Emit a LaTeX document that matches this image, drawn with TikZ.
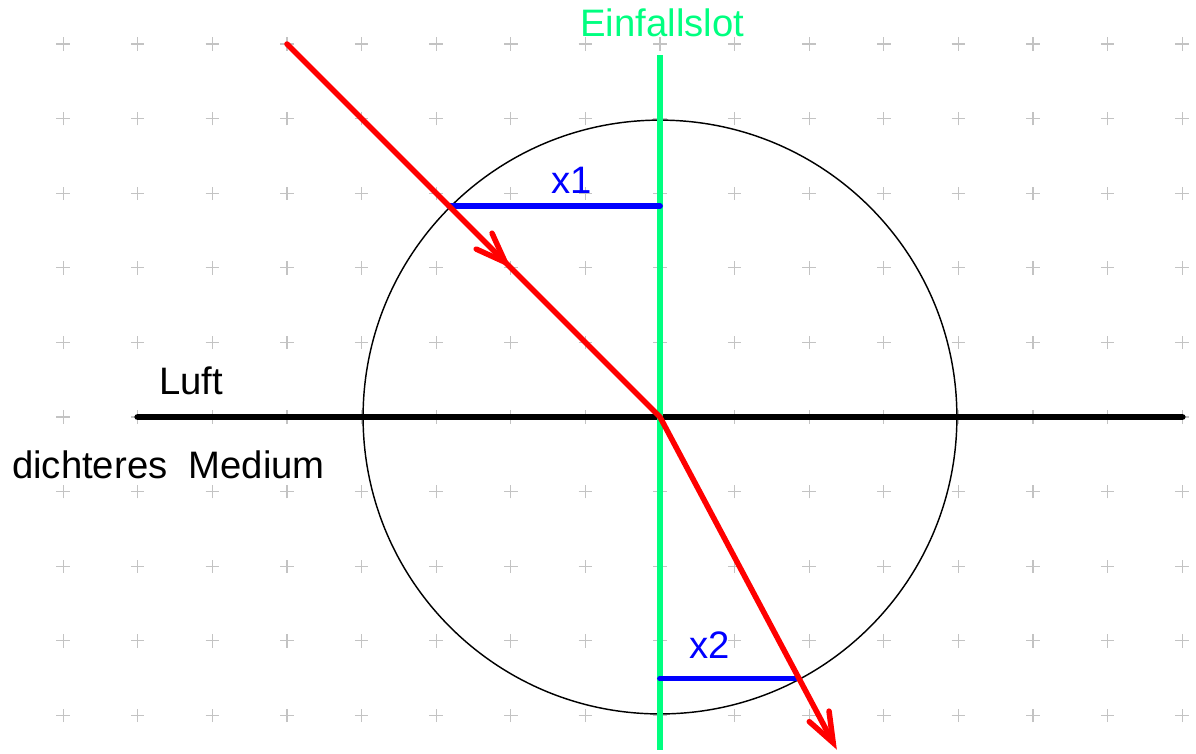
\documentclass[tikz,border=0pt]{standalone}
\usepackage{fontspec}
\setmainfont{Liberation Sans}
\usepackage{tikz}
\usetikzlibrary{arrows.meta}
\usetikzlibrary{calc}
\usetikzlibrary{decorations.markings}
\definecolor{lotgreen}{RGB}{0,255,128}
\definecolor{gridgray}{RGB}{195,195,195}
\tikzset{
    ray/.style={color=red, line width=2.1pt, line cap=round},
    barb/.style={-{Straight Barb[length=4mm, width=3mm, line cap=round]}},
    midbarb/.style={decoration={
      markings,
      mark=at position #1 with {\arrow{Straight Barb[length=4mm, width=3mm, line cap=round]}}},postaction={decorate}},
    strecke/.style={color=blue, line width=2.2pt, line cap=round},
    beschr/.style={font=\fontsize{14.6}{17}\selectfont, inner sep=0pt, anchor=base}
}
\begin{document}
\begin{tikzpicture}
    \useasboundingbox (-8.847,-4.517) rectangle (7.185,5.59);
    % Raster
    \foreach \x in {-8,...,7}
      \foreach \y in {-4,...,5}
        \draw[color=gridgray, line width=0.5pt] (\x-0.09,\y) -- (\x+0.09,\y) (\x,\y-0.09) -- (\x,\y+0.09);
    \coordinate (M) at (0, 0);
    \coordinate (S) at (-5, 5);
    \coordinate (E) at ($(M) + (-62:5.05)$);
    \coordinate (P1) at ($(M) + (135:4)$);
    \coordinate (P2) at ($(M) + (-62:3.97)$);
    \coordinate (L) at (-7, 0);
    \coordinate (R) at (7, 0);
    \coordinate (T) at (0, 4.85);
    \coordinate (U) at (0, -4.46);
    \draw[color=black, line width=0.55pt] (M) circle (3.98cm);
    \draw[color=black, line width=2.6pt, line cap=round] (L) -- (R);
    \draw[color=lotgreen, line width=2.2pt] (T) -- (U);
    \draw[strecke] (P1) -- (M |- P1);
    \draw[strecke] (M |- P2) -- (P2);
    \draw[ray, midbarb=.6] (S) -- (M);
    \draw[ray, barb] (M) -- (E);
    \node[beschr, color=lotgreen] (lot) at (0.03, 5.107) {Einfallslot};
    \node[beschr] (luft) at (-6.287, 0.308) {Luft};
    \node[beschr] (medium) at (-6.588, -0.818) {dichteres\ \ Medium};
    \node[beschr, color=blue] (x1) at (-1.19, 3.0) {x1};
    \node[beschr, color=blue] (x2) at (0.67, -3.24) {x2};
\end{tikzpicture}
\end{document}
